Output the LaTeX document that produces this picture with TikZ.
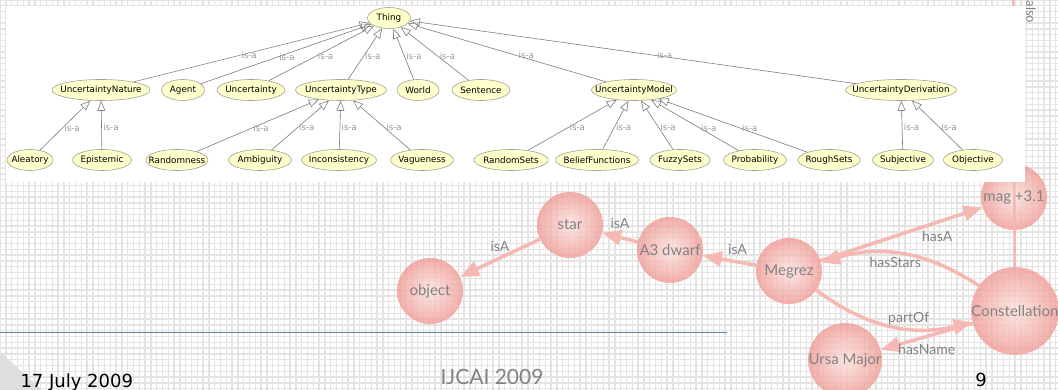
\documentclass[tikz,border=0pt]{standalone}
\usepackage{fontspec}
\setmainfont{DejaVu Sans}
\newfontfamily\lato{Lato}
\usetikzlibrary{arrows.meta,shapes.geometric,positioning}
\definecolor{clsfill}{RGB}{255,255,204}
\definecolor{clsdraw}{RGB}{160,160,150}
\definecolor{isagrey}{RGB}{125,125,125}
\definecolor{labelgrey}{RGB}{150,150,150}
\definecolor{relpink}{RGB}{246,184,178}
\definecolor{ballin}{RGB}{252,226,222}
\definecolor{ballout}{RGB}{240,155,149}
\definecolor{slidegrey}{RGB}{130,130,130}
\definecolor{gridgrey}{RGB}{228,228,228}
\definecolor{cornergrey}{RGB}{222,222,222}
\definecolor{ruleblue}{RGB}{90,130,175}
\tikzset{
    %Define style for class ellipses
    cls/.style={
           ellipse,
           draw=clsdraw, fill=clsfill, line width=0.6pt,
           minimum height=21pt,
           inner sep=0pt,
           font=\fontsize{8.8}{10}\selectfont,
           execute at begin node={\hbox to 0pt\bgroup\hss},
           execute at end node={\hss\egroup}},
    % Define style for is-a links
    isa/.style={
           ->,
           draw=isagrey, line width=0.6pt},
    isalabel/.style={
           text=labelgrey,
           font=\fontsize{8.6}{10}\selectfont,
           pos=0.45, anchor=west, inner sep=1.5pt},
    %Define style for spheres
    sphere/.style={
           circle,
           minimum size=66pt,
           inner sep=0pt,
           shade, inner color=ballin, outer color=ballout,
           fill opacity=0.8, text opacity=1,
           text=slidegrey,
           font=\lato\fontsize{15}{18}\selectfont},
    % Define relation arrow style
    rel/.style={
           -{Triangle[length=19pt,width=15pt]},
           draw=relpink, line width=3.5pt},
    relline/.style={
           draw=relpink, line width=2.5pt},
    rellabel/.style={
           text=slidegrey,
           font=\lato\fontsize{14}{16}\selectfont,
           inner sep=2pt},
    gridline/.style={
           draw=gridgrey, line width=1.4pt, step=5.8pt}
}
\begin{document}
\begin{tikzpicture}[x=1pt,y=-1pt,>={Triangle[open,length=10pt,width=8pt]}]
\useasboundingbox (0,0) rectangle (1058,390);
\clip (0,0) rectangle (1058,390);
 %slide background
\fill[white] (0,0) rectangle (1058,390);
\draw[gridline] (0,390) grid (1058,0);
\fill[cornergrey] (0,352) -- (42,390) -- (0,390) -- cycle;
\draw[ruleblue, line width=1pt] (0,332) -- (727,332);
\node[anchor=base west, font=\fontsize{18}{20}\selectfont] (date) at (17,387) {17 July 2009};
\node[anchor=base, text=slidegrey, font=\lato\fontsize{21}{24}\selectfont] (conf) at (492,384) {IJCAI 2009};
\node[anchor=base, font=\fontsize{18}{20}\selectfont] (page) at (981,386) {9};

 %spheres
\node[sphere] (object) at (430,291) {object};
\node[sphere] (star) at (570,225) {star};
\node[sphere] (dwarf) at (670,250) {A3 dwarf};
\node[sphere] (megrez) at (789,271) {Megrez};
\node[sphere] (mag) at (1014,197) {mag +3.1};
\node[sphere] (constel) at (1015,311) {Constellation};
\node[sphere] (ursa) at (845,360) {Ursa Major};
\coordinate (linetop) at (1013,0);

\draw[relline] (linetop) -- (constel);
\draw[rel] (star) -- node[rellabel, above=3pt] {isA} (object);
\draw[rel] (dwarf) -- node[rellabel, above=5pt] {isA} (star);
\draw[rel] (megrez) -- node[rellabel, pos=0.35, above=4pt] {isA} (dwarf);
\draw[rel] (megrez) -- node[rellabel, pos=0.72, below=5pt] {hasA} (mag);
\draw[rel] (constel) to[bend right=25] node[rellabel, pos=0.55, below] {hasStars} (megrez);
\draw[rel] (megrez) to[bend right=25] node[rellabel, pos=0.62, above] {partOf} (constel);
\draw[rel] (constel) -- node[rellabel, below=4pt] {hasName} (ursa);

 %ontology panel
\fill[white] (6,6) rectangle (1025,182);
\node[rotate=-90, text=slidegrey, font=\lato\fontsize{13}{14}\selectfont] (also) at (1031,12) {also};

\node[cls, minimum width=43] (thing) at (389,18) {Thing};

\node[cls, minimum width=98] (nature) at (101,90) {UncertaintyNature};
\node[cls, minimum width=43] (agent) at (183,90) {Agent};
\node[cls, minimum width=68] (uncert) at (251,90) {Uncertainty};
\node[cls, minimum width=91] (utype) at (341,90) {UncertaintyType};
\node[cls, minimum width=42] (world) at (418,90) {World};
\node[cls, minimum width=58] (sentence) at (481,90) {Sentence};
\node[cls, minimum width=85] (model) at (634,90) {UncertaintyModel};
\node[cls, minimum width=111] (deriv) at (901,90) {UncertaintyDerivation};

\node[cls, minimum width=46] (aleatory) at (30,160) {Aleatory};
\node[cls, minimum width=59] (epistemic) at (102,160) {Epistemic};
\node[cls, minimum width=62] (random) at (177,160) {Randomness};
\node[cls, minimum width=63] (ambig) at (260,160) {Ambiguity};
\node[cls, minimum width=75] (incons) at (339,160) {Inconsistency};
\node[cls, minimum width=63] (vague) at (422,160) {Vagueness};
\node[cls, minimum width=74] (randsets) at (511,160) {RandomSets};
\node[cls, minimum width=83] (belief) at (597,160) {BeliefFunctions};
\node[cls, minimum width=60] (fuzzy) at (680,160) {FuzzySets};
\node[cls, minimum width=63] (prob) at (755,160) {Probability};
\node[cls, minimum width=62] (rough) at (829,160) {RoughSets};
\node[cls, minimum width=61] (subj) at (903,160) {Subjective};
\node[cls, minimum width=59] (obj) at (973,160) {Objective};

\path[isa]
    (nature) edge node[isalabel] {is-a} (thing)
    (agent) edge node[isalabel] {is-a} (thing)
    (uncert) edge node[isalabel] {is-a} (thing)
    (utype) edge node[isalabel] {is-a} (thing)
    (world) edge node[isalabel] {is-a} (thing)
    (sentence) edge node[isalabel] {is-a} (thing)
    (model) edge node[isalabel] {is-a} (thing)
    (deriv) edge node[isalabel] {is-a} (thing)
    (aleatory) edge node[isalabel] {is-a} (nature)
    (epistemic) edge node[isalabel] {is-a} (nature)
    (random) edge node[isalabel] {is-a} (utype)
    (ambig) edge node[isalabel] {is-a} (utype)
    (incons) edge node[isalabel] {is-a} (utype)
    (vague) edge node[isalabel] {is-a} (utype)
    (randsets) edge node[isalabel] {is-a} (model)
    (belief) edge node[isalabel] {is-a} (model)
    (fuzzy) edge node[isalabel] {is-a} (model)
    (prob) edge node[isalabel] {is-a} (model)
    (rough) edge node[isalabel] {is-a} (model)
    (subj) edge node[isalabel] {is-a} (deriv)
    (obj) edge node[isalabel] {is-a} (deriv);
\end{tikzpicture}
\end{document}
